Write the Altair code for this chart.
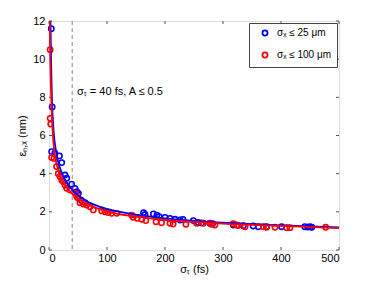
import altair as alt
import pandas as pd

# ---- data ----
blue_x = [4, 5.5, 4.6, 10, 18, 22, 27.6, 30.5, 39, 44.8, 47.8, 50.6, 56, 62,
          163, 165.5, 180, 186, 190, 200, 208.6, 217, 226, 231, 249, 257, 263,
          277.6, 282, 317.8, 335, 352, 361, 375, 401, 441, 446, 450, 453]
blue_y = [11.6, 7.5, 5.15, 5.07, 4.93, 4.58, 3.93, 3.76, 3.45, 3.23, 3.06, 2.97, 2.6, 2.48,
          1.96, 1.86, 1.89, 1.83, 1.75, 1.71, 1.66, 1.61, 1.57, 1.6, 1.54, 1.45, 1.42,
          1.4, 1.38, 1.31, 1.27, 1.26, 1.22, 1.22, 1.22, 1.22, 1.2, 1.22, 1.19]

red_x = [2, 2, 3, 4.6, 8.6, 13, 16, 19, 21.9, 24.7, 27.6, 30.5, 36, 45, 47.8, 50.5,
         53.4, 59, 65, 70.7, 76.4, 90.9, 96.6, 102, 108, 116.7, 142.5, 145, 152, 160,
         167, 184.5, 194, 208.6, 214, 236, 254.6, 266, 277.6, 280.5, 286, 317.8, 323.6,
         326, 338, 369.5, 375, 389.7, 409.8, 415.5, 477]
red_y = [10.5, 6.9, 6.6, 4.85, 4.8, 4.37, 4.0, 3.85, 3.67, 3.58, 3.4, 3.23, 3.14, 2.97, 2.79, 2.71,
         2.48, 2.41, 2.36, 2.27, 2.1, 2.05, 2.0, 1.96, 1.92, 1.92, 1.83, 1.71, 1.66, 1.61,
         1.54, 1.48, 1.43, 1.4, 1.36, 1.35, 1.4, 1.4, 1.4, 1.35, 1.31, 1.38, 1.31,
         1.28, 1.22, 1.22, 1.19, 1.19, 1.17, 1.17, 1.19]

# fitted curves
blue_fit_x = [2.5, 3.5, 5, 8, 12, 20, 30, 40, 60, 80, 100, 150, 200, 250, 300, 400, 500]
blue_fit_y = [12, 10, 8, 6.2, 5.2, 4.2, 3.55, 3.15, 2.65, 2.35, 2.15, 1.85, 1.66, 1.53, 1.43, 1.29, 1.18]
red_fit_x = [1.2, 2, 3, 5, 7, 10, 15, 20, 30, 40, 60, 80, 100, 150, 200, 250, 300, 400, 500]
red_fit_y = [12, 10.3, 8.9, 7.0, 5.9, 5.0, 4.3, 3.85, 3.3, 2.95, 2.5, 2.22, 2.03, 1.75, 1.58, 1.47, 1.38, 1.26, 1.15]

series_names = ["σₓ ≤ 25 μm", "σₓ ≤ 100 μm"]
series_colors = ["#0000ff", "#ff0000"]

x_ticks = [0, 100, 200, 300, 400, 500]
y_ticks = [0, 2, 4, 6, 8, 10, 12]
cut_x = [40]
note_x, note_y, note_text = [48.3], [8.28], ["σₜ = 40 fs, A ≤ 0.5"]

FONT = "Liberation Sans"
W, H = 290, 229

pts = pd.DataFrame({
    "x": blue_x + red_x,
    "y": blue_y + red_y,
    "s": [series_names[0]] * len(blue_x) + [series_names[1]] * len(red_x),
})
bfit = pd.DataFrame({"x": blue_fit_x, "y": blue_fit_y})
rfit = pd.DataFrame({"x": red_fit_x, "y": red_fit_y})

xs = alt.Scale(domain=[0, 500], nice=False)
ys = alt.Scale(domain=[0, 12], nice=False)

xax = alt.Axis(values=x_ticks, title="σₜ (fs)", tickSize=0, domain=False, grid=False,
               labelPadding=2, titlePadding=0, labelFont=FONT, titleFont=FONT,
               labelFontSize=11, titleFontSize=11, titleFontWeight="normal",
               labelColor="#000", titleColor="#000", labelOverlap=False)
yax = alt.Axis(values=y_ticks, title="εₙ,ₓ (nm)", tickSize=0, domain=False, grid=False,
               labelPadding=4, titlePadding=5, labelFont=FONT, titleFont=FONT,
               labelFontSize=11, titleFontSize=11, titleFontWeight="normal",
               labelColor="#000", titleColor="#000", labelOverlap=False)


def X(f="x:Q"):
    return alt.X(f, scale=xs, axis=xax)


def Y(f="y:Q"):
    return alt.Y(f, scale=ys, axis=yax)


base_pts = alt.Chart(pts).mark_point(shape="circle", filled=False, size=28, strokeWidth=1.6, opacity=1).encode(
    x=X(), y=Y(),
    color=alt.Color("s:N", scale=alt.Scale(domain=series_names, range=series_colors),
                    sort=series_names,
                    legend=alt.Legend(title=None, orient="none", legendX=200, legendY=2,
                                      padding=5, strokeColor="#444", fillColor="white",
                                      labelFont=FONT, labelFontSize=10, symbolSize=26,
                                      symbolStrokeWidth=1.8, symbolType="circle",
                                      symbolFillColor="white", rowPadding=8,
                                      symbolOffset=6, labelOffset=7, labelColor="#000")),
)

blue_line = alt.Chart(bfit).mark_line(color="#0000ff", strokeWidth=1.8, interpolate="monotone", clip=True).encode(
    x=X(), y=Y())
red_line = alt.Chart(rfit).mark_line(color="#ff0000", strokeWidth=1.8, interpolate="monotone", clip=True).encode(
    x=X(), y=Y())

cut = alt.Chart(pd.DataFrame({"x": cut_x})).mark_rule(color="#888888", strokeDash=[4, 3], strokeWidth=1).encode(
    x=X())

note = alt.Chart(pd.DataFrame({"x": note_x, "y": note_y, "t": note_text})).mark_text(
    align="left", baseline="middle", font=FONT, fontSize=11, color="#000").encode(
    x=X(), y=Y(), text="t:N")

# inward ticks on all four sides
xt = pd.DataFrame({"x": x_ticks})
yt = pd.DataFrame({"y": y_ticks})
tick_style = dict(color="#555555", strokeWidth=1)
xt_bot = alt.Chart(xt).mark_rule(**tick_style).encode(x=X(), y=alt.value(H), y2=alt.value(H - 3))
xt_top = alt.Chart(xt).mark_rule(**tick_style).encode(x=X(), y=alt.value(0), y2=alt.value(3))
yt_left = alt.Chart(yt).mark_rule(**tick_style).encode(y=Y(), x=alt.value(0), x2=alt.value(3))
yt_right = alt.Chart(yt).mark_rule(**tick_style).encode(y=Y(), x=alt.value(W), x2=alt.value(W - 3))

chart = alt.layer(base_pts, cut, note, xt_bot, xt_top, yt_left, yt_right, blue_line, red_line).properties(
    width=W, height=H,
    autosize=alt.AutoSizeParams(type="none"),
    padding={"left": 41, "top": 13, "right": 20, "bottom": 25},
).configure_view(stroke="#555555", strokeWidth=1).configure(background="white")

chart.save("out.html", embed_options={"renderer": "svg", "actions": False})
